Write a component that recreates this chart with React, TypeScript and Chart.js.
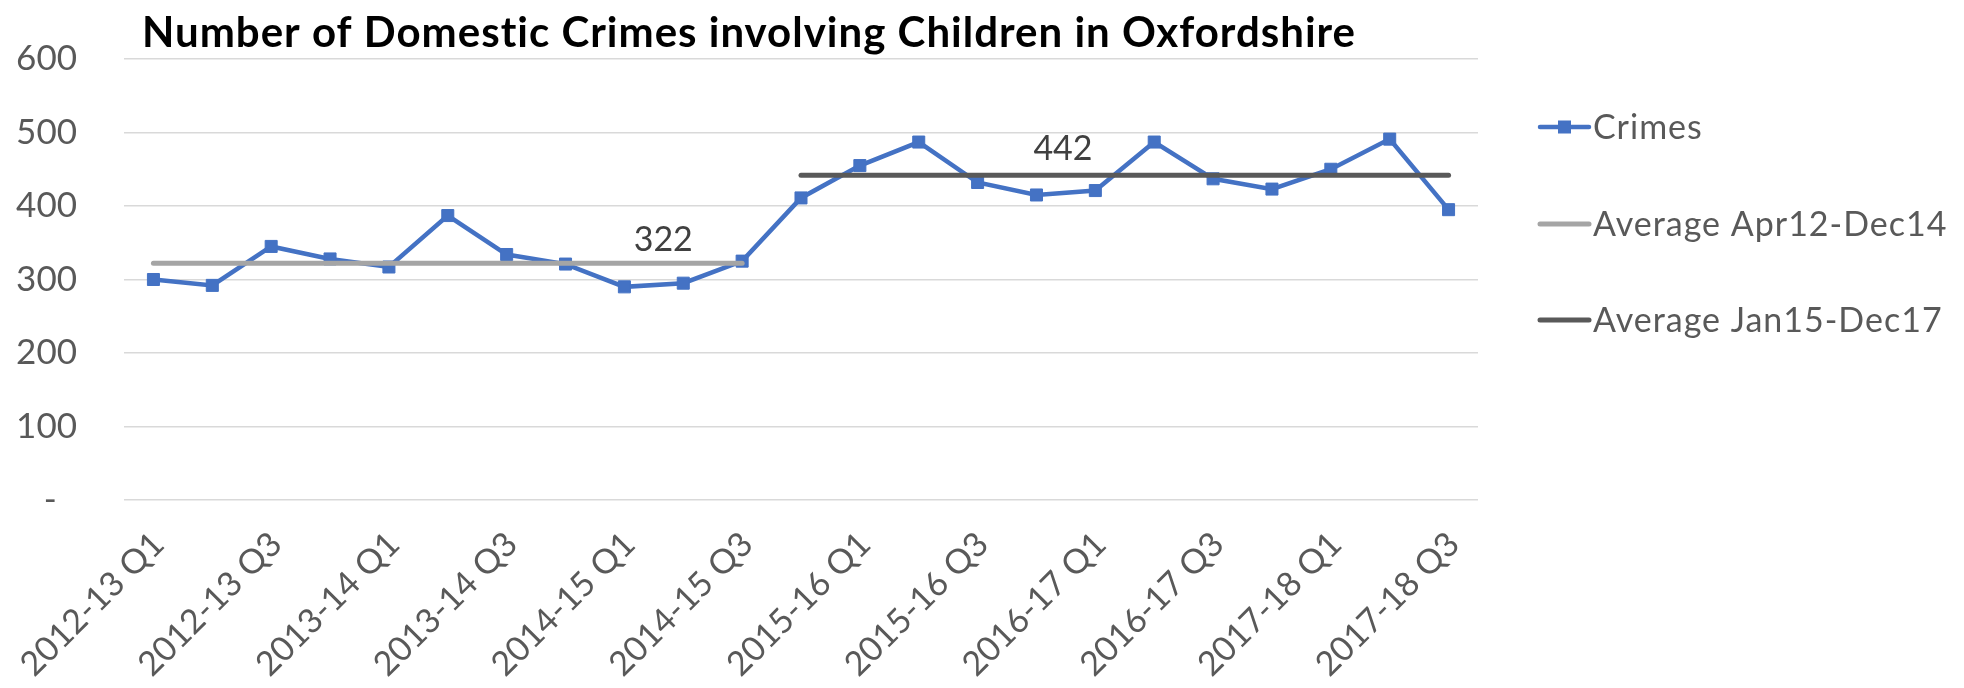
import { useEffect, useRef } from 'react';
import { Chart, registerables } from 'chart.js';

Chart.register(...registerables);

const categories = [
  '2012-13 Q1', '2012-13 Q2', '2012-13 Q3', '2012-13 Q4',
  '2013-14 Q1', '2013-14 Q2', '2013-14 Q3', '2013-14 Q4',
  '2014-15 Q1', '2014-15 Q2', '2014-15 Q3', '2014-15 Q4',
  '2015-16 Q1', '2015-16 Q2', '2015-16 Q3', '2015-16 Q4',
  '2016-17 Q1', '2016-17 Q2', '2016-17 Q3', '2016-17 Q4',
  '2017-18 Q1', '2017-18 Q2', '2017-18 Q3',
];

const crimes = [300, 292, 345, 328, 317, 387, 334, 321, 290, 295, 325, 411, 455, 487, 432, 415, 421, 487, 437, 423, 450, 491, 395];

const averageApr12Dec14 = [322, 322, 322, 322, 322, 322, 322, 322, 322, 322, 322, null, null, null, null, null, null, null, null, null, null, null, null];

const averageJan15Dec17 = [null, null, null, null, null, null, null, null, null, null, null, 442, 442, 442, 442, 442, 442, 442, 442, 442, 442, 442, 442];

const seriesNames = ['Crimes', 'Average Apr12-Dec14', 'Average Jan15-Dec17'];
const yTickValues = [0, 100, 200, 300, 400, 500, 600];
const titleText = 'Number of Domestic Crimes involving Children in Oxfordshire';

// average value labels: text, category position, value position
const avgLabelTexts = ['322', '442'];
const avgLabelAt = [8.66, 15.45];
const avgLabelValue = [354, 477];

const FONT = 'Lato, "Open Sans", sans-serif';
const BLUE = '#4472C4';
const LIGHT = '#A5A5A5';
const DARK = '#595959';

export default function App() {
  const ref = useRef<HTMLCanvasElement | null>(null);

  useEffect(() => {
    document.body.style.margin = '0';
    const canvas = ref.current;
    if (!canvas) return;

    const decorations = {
      id: 'decorations',
      afterDraw(chart: any) {
        const ctx = chart.ctx;
        const xs = chart.scales.x;
        const ys = chart.scales.y;
        ctx.save();
        // title
        ctx.fillStyle = '#000000';
        ctx.font = `bold 42px ${FONT}`;
        (ctx as any).letterSpacing = '1px';
        ctx.textAlign = 'left';
        ctx.textBaseline = 'alphabetic';
        ctx.fillText(titleText, 142, 47);

        // average labels
        (ctx as any).letterSpacing = '0px';
        ctx.fillStyle = '#404040';
        ctx.font = `34px ${FONT}`;
        ctx.textAlign = 'center';
        ctx.textBaseline = 'middle';
        avgLabelTexts.forEach((t, i) => {
          ctx.fillText(t, xs.getPixelForValue(avgLabelAt[i]), ys.getPixelForValue(avgLabelValue[i]));
        });

        // legend
        const ds = chart.data.datasets;
        const rowY = [127, 224, 320];
        const x0 = 1538;
        const x1 = 1591;
        ds.forEach((d: any, i: number) => {
          const y = rowY[i];
          ctx.strokeStyle = d.borderColor;
          ctx.lineWidth = d.borderWidth;
          ctx.lineCap = 'round';
          ctx.beginPath();
          ctx.moveTo(x0 + 2, y);
          ctx.lineTo(x1 - 2, y);
          ctx.stroke();
          if (d.pointRadius > 0) {
            ctx.fillStyle = d.borderColor;
            ctx.fillRect((x0 + x1) / 2 - 6.5, y - 6.5, 13, 13);
          }
          ctx.fillStyle = '#595959';
          ctx.font = `34px ${FONT}`;
          (ctx as any).letterSpacing = '1px';
          ctx.textAlign = 'left';
          ctx.textBaseline = 'middle';
          ctx.fillText(d.label, 1593, y + 1);
        });
        ctx.restore();
      },
    };

    const chart = new Chart(canvas, {
      type: 'line',
      data: {
        labels: categories,
        datasets: [
          {
            label: seriesNames[0],
            data: crimes,
            borderColor: BLUE,
            backgroundColor: BLUE,
            borderWidth: 4.5,
            pointStyle: 'rect',
            pointRadius: 8.5,
            pointBorderWidth: 1,
            pointBackgroundColor: BLUE,
            pointBorderColor: BLUE,
            tension: 0,
            order: 2,
          },
          {
            label: seriesNames[1],
            data: averageApr12Dec14,
            borderColor: LIGHT,
            backgroundColor: LIGHT,
            borderWidth: 5,
            pointRadius: 0,
            borderCapStyle: 'round',
            spanGaps: false,
            order: 1,
          },
          {
            label: seriesNames[2],
            data: averageJan15Dec17,
            borderColor: DARK,
            backgroundColor: DARK,
            borderWidth: 5,
            pointRadius: 0,
            borderCapStyle: 'round',
            spanGaps: false,
            order: 1,
          },
        ],
      },
      options: {
        responsive: false,
        animation: false,
        layout: { padding: { left: 0, top: 59, right: 486, bottom: 0 } },
        plugins: {
          legend: { display: false },
          title: { display: false },
          tooltip: { enabled: false },
        },
        scales: {
          x: {
            offset: true,
            grid: { display: false, drawTicks: false },
            border: { display: false },
            afterFit: (s: any) => {
              s.height = 188;
              s.paddingLeft = 0;
              s.paddingRight = 0;
              s.paddingTop = 0;
              s.paddingBottom = 0;
            },
            ticks: {
              autoSkip: false,
              maxRotation: 45,
              minRotation: 45,
              padding: 24,
              labelOffset: 5,
              color: '#595959',
              font: { family: FONT, size: 34 },
              callback: (_v: any, i: number) => (i % 2 === 0 ? categories[i] : ''),
            },
          },
          y: {
            min: 0,
            max: 600,
            afterFit: (s: any) => {
              s.width = 124;
              s.paddingLeft = 0;
              s.paddingRight = 0;
              s.paddingTop = 0;
              s.paddingBottom = 0;
            },
            afterBuildTicks: (s: any) => { s.ticks = yTickValues.map((v) => ({ value: v })); },
            grid: { color: '#D9D9D9', lineWidth: 1.5, drawTicks: false },
            border: { display: false },
            ticks: {
              padding: 47,
              color: '#595959',
              font: { family: FONT, size: 35 },
              callback: (v: any) => (v === 0 ? '-\u2007' : String(v)),
            },
          },
        },
      },
      plugins: [decorations],
    });

    return () => chart.destroy();
  }, []);

  return (
    <div style={{ width: 1964, height: 688, background: '#ffffff' }}>
      <canvas ref={ref} width={1964} height={688} />
    </div>
  );
}
